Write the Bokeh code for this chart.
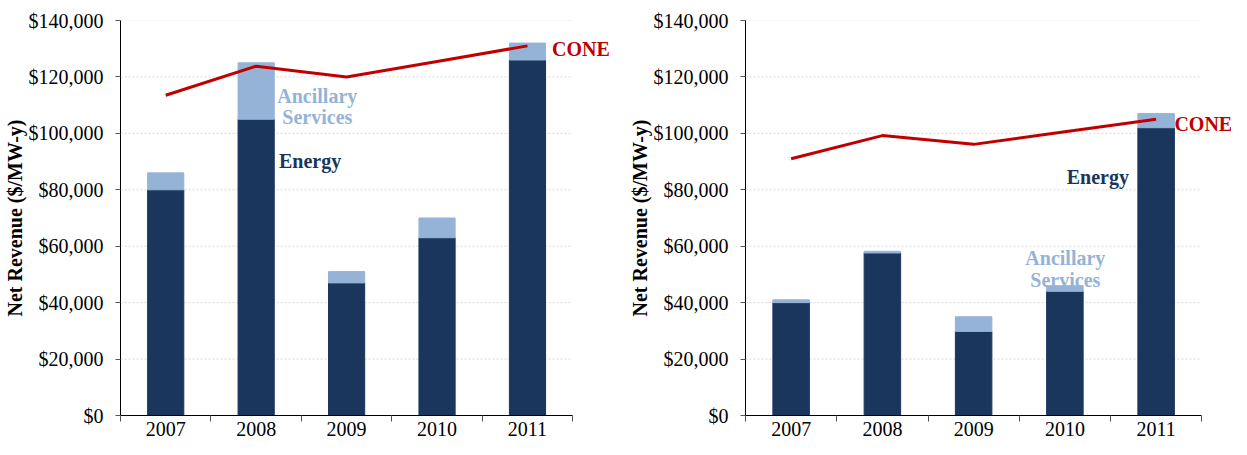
from bokeh.plotting import figure
from bokeh.layouts import row
from bokeh.models import Range1d, FixedTicker, SingleIntervalTicker, NumeralTickFormatter, Label
from bokeh.embed import file_html
from bokeh.resources import INLINE

years = ["2007", "2008", "2009", "2010", "2011"]

# Left chart
left_energy = [80000, 105000, 47000, 63000, 126000]
left_ancillary = [6000, 20000, 4000, 7000, 6000]
left_cone = [113500, 123800, 120000, 125500, 131000]

# Right chart
right_energy = [40000, 57600, 29800, 44000, 102000]
right_ancillary = [1000, 600, 5200, 2000, 5000]
right_cone = [91000, 99200, 96100, 100600, 105000]

y_ticks_interval = 20000
y_max = 140000

NAVY = "#1A365D"
LIGHT = "#95B3D7"
RED = "#C00000"
FONT = "Liberation Serif"


def make_chart(energy, ancillary, cone, width, height, borders, x_end, labels):
    n = len(years)
    centers = [i + 0.5 for i in range(n)]
    bounds = [float(i) for i in range(n + 1)]
    totals = [e + a for e, a in zip(energy, ancillary)]
    grid_vals = list(range(y_ticks_interval, y_max + 1, y_ticks_interval))
    p = figure(width=width, height=height, output_backend="svg", toolbar_location=None,
               x_range=Range1d(0, x_end), y_range=Range1d(0, y_max),
               min_border_left=borders[0], min_border_right=borders[1],
               min_border_top=borders[2], min_border_bottom=borders[3])
    p.outline_line_color = None
    p.xgrid.grid_line_color = None
    p.ygrid.grid_line_color = None

    # horizontal grid lines limited to the category area
    p.segment(x0=[0] * len(grid_vals), x1=[n] * len(grid_vals), y0=grid_vals, y1=grid_vals,
              line_color="#d9d9d9", line_dash="2 2", line_width=1)

    p.vbar(x=centers, bottom=0, top=energy, width=0.4, fill_color=NAVY, line_color=NAVY)
    p.vbar(x=centers, bottom=energy, top=totals, width=0.4, fill_color=LIGHT, line_color=LIGHT)
    p.line(centers, cone, line_color=RED, line_width=3)

    # y axis
    ya = p.yaxis[0]
    ya.ticker = SingleIntervalTicker(interval=y_ticks_interval)
    ya.formatter = NumeralTickFormatter(format="$0,0")
    ya.minor_tick_line_color = None
    ya.major_tick_out = 5
    ya.major_tick_in = 0
    ya.major_tick_line_color = "#555555"
    ya.axis_line_color = "black"
    ya.major_label_text_font = FONT
    ya.major_label_text_font_size = "20px"
    ya.major_label_text_color = "black"
    ya.major_label_standoff = 12
    ya.axis_label = "Net Revenue ($/MW-y)"
    ya.axis_label_text_font = FONT
    ya.axis_label_text_font_style = "bold"
    ya.axis_label_text_font_size = "20px"
    ya.axis_label_text_color = "black"
    ya.axis_label_standoff = 0

    # x axis
    xa = p.xaxis[0]
    xa.bounds = (0, n)
    xa.ticker = FixedTicker(ticks=centers, minor_ticks=bounds)
    xa.major_label_overrides = {c: y for c, y in zip(centers, years)}
    xa.major_tick_out = 0
    xa.major_tick_in = 0
    xa.minor_tick_out = 6
    xa.minor_tick_in = 0
    xa.minor_tick_line_color = "#555555"
    xa.axis_line_color = "black"
    xa.major_label_text_font = FONT
    xa.major_label_text_font_size = "20px"
    xa.major_label_text_color = "black"
    xa.major_label_standoff = 0

    for (text, x, y, color, align) in labels:
        p.add_layout(Label(x=x, y=y, text=text, text_font=FONT, text_font_size="20px",
                           text_font_style="bold", text_color=color, text_align=align,
                           text_baseline="alphabetic"))
    return p


left = make_chart(left_energy, left_ancillary, left_cone, 612, 439, (115, 0, 12, 24), 5.44, [
    ("Ancillary", 2.176, 113400, LIGHT, "center"),
    ("Services", 2.176, 105950, LIGHT, "center"),
    ("Energy", 1.752, 90200, NAVY, "left"),
    ("CONE", 4.772, 129800, RED, "left"),
])

right = make_chart(right_energy, right_ancillary, right_cone, 619, 439, (133, 0, 20, 23), 5.326, [
    ("Ancillary", 3.505, 55700, LIGHT, "center"),
    ("Services", 3.505, 48050, LIGHT, "center"),
    ("Energy", 3.52, 84500, NAVY, "left"),
    ("CONE", 4.70, 103400, RED, "left"),
])

layout = row(left, right)
open("out.html", "w").write(file_html(layout, INLINE))
